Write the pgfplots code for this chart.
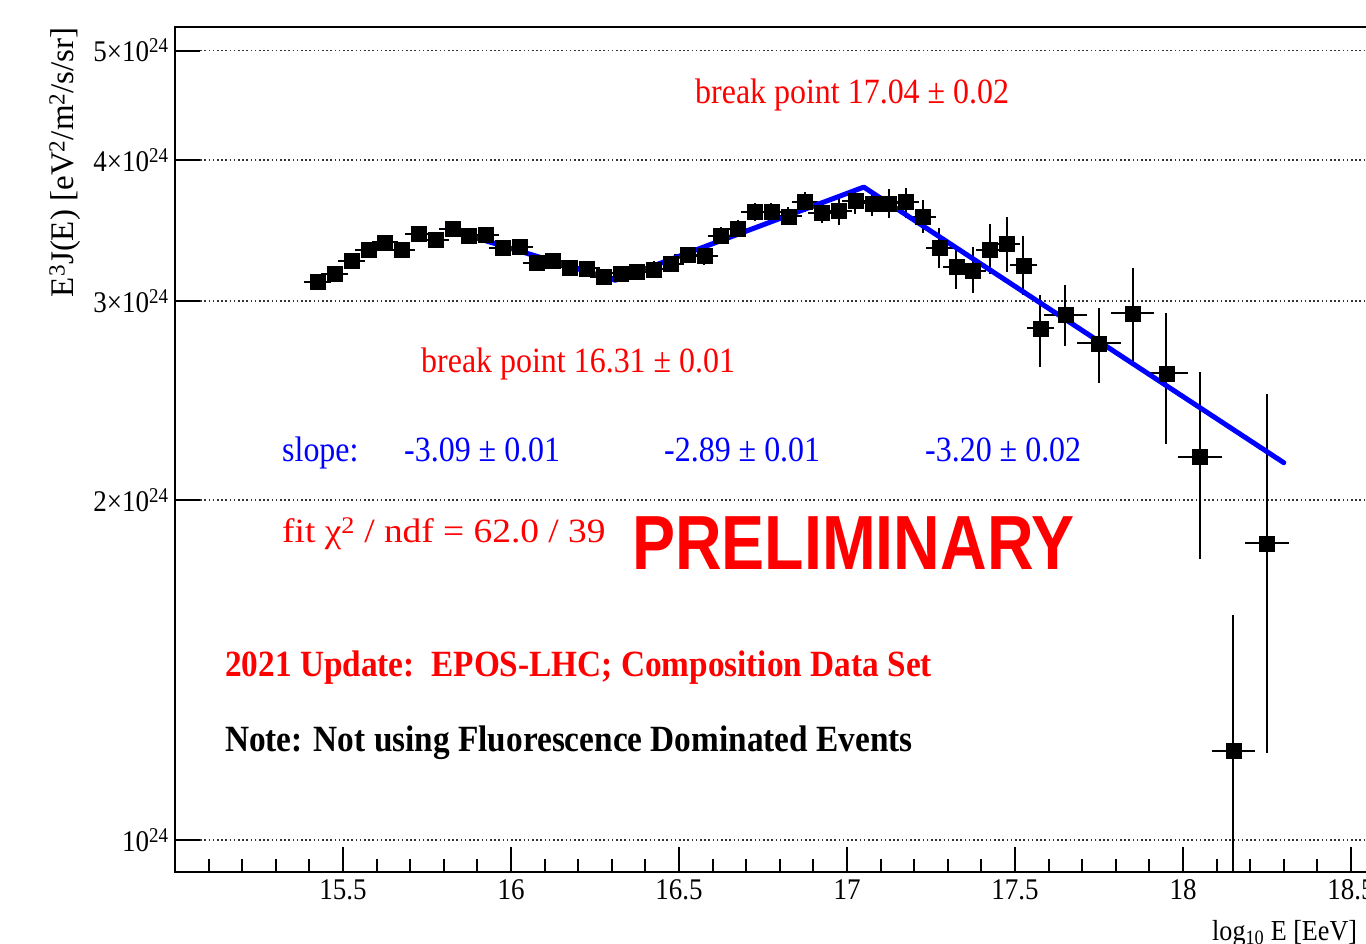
\documentclass[border=0pt]{standalone}
\usepackage{fontspec}
\setmainfont{Liberation Serif}[FakeStretch=0.9]
\newfontfamily\rotfont{Liberation Serif}
\newfontfamily\fitfont{Liberation Serif}[FakeStretch=1.1]
\newfontfamily\prelimfont{Liberation Sans}[FakeStretch=0.84]
\usepackage{pgfplots}
\usepackage{pgfplotstable}
\pgfplotsset{compat=1.18}
\newcommand\fs[1]{\fontsize{#1}{#1}\selectfont}
\definecolor{rootred}{RGB}{255,0,0}
\definecolor{rootblue}{RGB}{0,0,255}

\pgfplotstableread{
x y ex eyp eym
15.425 3.122 0.025 0.015 0.015
15.475 3.170 0.025 0.015 0.015
15.525 3.255 0.025 0.015 0.015
15.575 3.333 0.025 0.015 0.015
15.625 3.383 0.025 0.015 0.015
15.675 3.333 0.025 0.015 0.015
15.725 3.439 0.025 0.015 0.015
15.775 3.397 0.025 0.015 0.015
15.825 3.479 0.025 0.015 0.015
15.875 3.425 0.025 0.015 0.015
15.925 3.432 0.025 0.015 0.015
15.975 3.344 0.025 0.015 0.015
16.025 3.351 0.025 0.015 0.015
16.075 3.244 0.025 0.015 0.015
16.125 3.257 0.025 0.015 0.015
16.175 3.214 0.025 0.015 0.015
16.225 3.207 0.025 0.015 0.015
16.275 3.152 0.025 0.015 0.015
16.325 3.174 0.025 0.015 0.015
16.375 3.184 0.025 0.015 0.015
16.425 3.200 0.025 0.02 0.02
16.475 3.235 0.025 0.02 0.02
16.525 3.295 0.025 0.02 0.02
16.575 3.289 0.025 0.025 0.025
16.625 3.428 0.025 0.025 0.025
16.675 3.479 0.025 0.025 0.025
16.725 3.599 0.025 0.03 0.03
16.775 3.599 0.025 0.03 0.03
16.825 3.567 0.025 0.03 0.03
16.875 3.673 0.025 0.035 0.035
16.925 3.592 0.025 0.04 0.04
16.975 3.607 0.025 0.057 0.068
17.025 3.681 0.025 0.055 0.06
17.075 3.662 0.025 0.06 0.06
17.125 3.662 0.025 0.07 0.07
17.175 3.673 0.025 0.068 0.085
17.225 3.562 0.025 0.087 0.08
17.275 3.344 0.025 0.10 0.10
17.325 3.217 0.025 0.092 0.11
17.375 3.193 0.025 0.123 0.112
17.425 3.333 0.025 0.142 0.131
17.475 3.374 0.025 0.15 0.158
17.525 3.228 0.025 0.162 0.159
17.575 2.838 0.025 0.168 0.189
17.65 2.916 0.05 0.153 0.15
17.75 2.753 0.05 0.175 0.189
17.85 2.926 0.05 0.25 0.255
17.95 2.589 0.05 0.309 0.324
18.05 2.185 0.05 0.385 0.394
18.15 1.200 0.05 0.366 0.40
18.25 1.831 0.05 0.626 0.625
}\datatable

\pgfplotstableread{
x y
15.81 3.475
16.31 3.131
17.05 3.785
18.30 2.158
}\fittable

\begin{document}
\begin{tikzpicture}
\begin{axis}[
  at={(175pt,71pt)}, anchor=south west, scale only axis,
  width=1209.6pt, height=845pt,
  xmin=15, xmax=18.6, ymode=log, ymin=0.9369, ymax=5.246,
  axis line style={line width=2pt, black},
  tick align=inside, tick pos=left,
  xtick={15.5,16,16.5,17,17.5,18,18.5},
  xticklabels={15.5,16,16.5,17,17.5,18,18.5},
  minor xtick={15.1,15.2,15.3,15.4,15.6,15.7,15.8,15.9,16.1,16.2,16.3,16.4,16.6,16.7,16.8,16.9,17.1,17.2,17.3,17.4,17.6,17.7,17.8,17.9,18.1,18.2,18.3,18.4,18.6},
  ytick={1,2,3,4,5},
  yticklabels={10\textsuperscript{24},2×10\textsuperscript{24},3×10\textsuperscript{24},4×10\textsuperscript{24},5×10\textsuperscript{24}},
  yminorticks=false,
  major tick length=25pt, minor tick length=13pt,
  every tick/.style={black, line width=2pt},
  ymajorgrids,
  major grid style={black!80, line width=1.5pt, dash pattern=on 1.5pt off 2.7pt},
  xticklabel style={font=\fs{30}, yshift=-4pt},
  yticklabel style={font=\fs{30}, xshift=-3pt},
]
\addplot[only marks, mark=square*, mark size=7.5pt, black,
  mark options={solid, fill=black},
  error bars/.cd, x dir=both, x explicit, y dir=both, y explicit,
  error bar style={line width=2pt, black},
  error mark options={line width=2pt, mark size=5pt, black}]
  table[x=x, y=y, x error=ex, y error plus=eyp, y error minus=eym] {\datatable};
\addplot[rootblue, line width=5pt, line cap=round, line join=round, no marks] table[x=x, y=y] {\fittable};
\end{axis}

% y axis title
\node[rotate=90, anchor=east, inner sep=0pt, font=\rotfont\fs{33}] at (65pt,916pt)
  {E\textsuperscript{3}J(E) [eV\textsuperscript{2}/m\textsuperscript{2}/s/sr]};
% x axis title
\node[anchor=base west, inner sep=0pt, font=\fs{29}] at (1212pt,3pt)
  {log\textsubscript{10} E [EeV]};

\node[anchor=base west, inner sep=0pt, text=rootred, font=\fs{35.5}] at (695pt,839pt) {break point 17.04 ± 0.02};
\node[anchor=base west, inner sep=0pt, text=rootred, font=\fs{35.5}] at (421pt,570pt) {break point 16.31 ± 0.01};
\node[anchor=base west, inner sep=0pt, text=rootblue, font=\fs{35.5}] at (282pt,481pt) {slope:};
\node[anchor=base west, inner sep=0pt, text=rootblue, font=\fs{35.5}] at (404pt,481pt) {-3.09 ± 0.01};
\node[anchor=base west, inner sep=0pt, text=rootblue, font=\fs{35.5}] at (664pt,481pt) {-2.89 ± 0.01};
\node[anchor=base west, inner sep=0pt, text=rootblue, font=\fs{35.5}] at (925pt,481pt) {-3.20 ± 0.02};
\node[anchor=base west, inner sep=0pt, text=rootred, font=\fitfont\fs{34}] at (282pt,400pt) {fit χ\textsuperscript{2} / ndf = 62.0 / 39};
\node[anchor=base west, inner sep=0pt, text=rootred, font=\prelimfont\bfseries\fs{76.8}] at (632pt,373pt) {PRELIMINARY};
\node[anchor=base west, inner sep=0pt, text=rootred, font=\bfseries\fs{37}] at (225pt,266pt) {2021 Update:\ \ EPOS-LHC; Composition Data Set};
\node[anchor=base west, inner sep=0pt, text=black, font=\bfseries\fs{37}] at (225pt,191pt) {Note: Not using Fluorescence Dominated Events};

\pgfresetboundingbox
\path[use as bounding box] (0,0) rectangle (1366pt,943pt);
\end{tikzpicture}
\end{document}
